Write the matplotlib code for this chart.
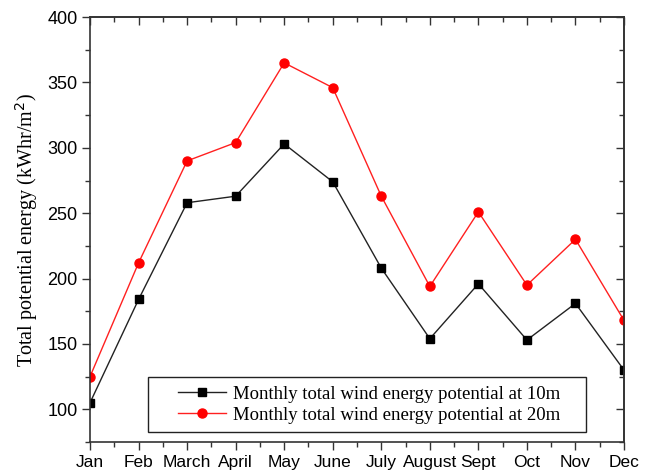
import matplotlib
matplotlib.use("Agg")
import matplotlib.pyplot as plt
from matplotlib.ticker import MultipleLocator, FixedLocator
from matplotlib.patches import Rectangle

months = ["Jan", "Feb", "March", "April", "May", "June", "July", "August", "Sept", "Oct", "Nov", "Dec"]
energy_10m = [105, 184, 258, 263, 303, 274, 208, 154, 196, 153, 181, 130]
energy_20m = [125, 212, 290, 304, 365, 346, 263, 194, 251, 195, 230, 168]

fig = plt.figure(figsize=(6.49, 4.74), dpi=100)
ax = fig.add_axes([0.1387, 0.0675, 0.8228, 0.8965])

x = list(range(len(months)))
ax.plot(x, energy_10m, color="#222222", lw=1.0, marker="s", ms=5.5,
        mfc="black", mec="black", label="Monthly total wind energy potential at 10m")
ax.plot(x, energy_20m, color="#ff2020", lw=1.0, marker="o", ms=6.5,
        mfc="#ff0000", mec="#ff0000", label="Monthly total wind energy potential at 20m")

ax.set_xlim(0, len(months) - 1)
ax.set_ylim(75, 400)
ax.set_xticks(x)
ax.set_xticklabels(months, family="Liberation Sans", fontsize=12.5)
ax.xaxis.set_minor_locator(FixedLocator([i + 0.5 for i in x[:-1]]))
ax.yaxis.set_major_locator(MultipleLocator(50))
ax.yaxis.set_minor_locator(MultipleLocator(25))
for lab in ax.get_yticklabels():
    lab.set_family("Liberation Sans")
    lab.set_fontsize(13)

ax.tick_params(axis="both", which="major", direction="out", length=6, width=1, color="#333333", pad=3)
ax.tick_params(axis="both", which="minor", direction="out", length=3.5, width=1, color="#333333")

sec_x = ax.secondary_xaxis("top")
sec_x.set_xticks(x)
sec_x.set_xticklabels([])
sec_x.xaxis.set_minor_locator(FixedLocator([i + 0.5 for i in x[:-1]]))
sec_x.tick_params(which="major", direction="in", length=6, width=1, color="#333333")
sec_x.tick_params(which="minor", direction="in", length=3.5, width=1, color="#333333")
sec_y = ax.secondary_yaxis("right")
sec_y.yaxis.set_major_locator(MultipleLocator(50))
sec_y.yaxis.set_minor_locator(MultipleLocator(25))
sec_y.set_yticklabels([])
sec_y.tick_params(which="major", direction="in", length=6, width=1, color="#333333")
sec_y.tick_params(which="minor", direction="in", length=3.5, width=1, color="#333333")
sec_x.spines["top"].set_color("#333333")
sec_y.spines["right"].set_color("#333333")
sec_x.spines["top"].set_linewidth(1.2)
sec_y.spines["right"].set_linewidth(1.2)

for sp in ax.spines.values():
    sp.set_color("#333333")
    sp.set_linewidth(1.2)

ax.set_ylabel("Total potential energy (kWhr/m$^2$)", family="Liberation Serif", fontsize=14.5)
ax.yaxis.set_label_coords(-0.094, 0.5)

leg = ax.legend(loc="center", bbox_to_anchor=(0.5225, 0.088), prop={"family": "Liberation Serif", "size": 13.5},
                frameon=False, handlelength=2.55, borderpad=0.0, labelspacing=0.2,
                handletextpad=0.35, borderaxespad=0)
box = Rectangle((0.1086, 0.0235), 0.8202, 0.1295, transform=ax.transAxes,
                facecolor="white", edgecolor="#222222", lw=1.0, zorder=4)
ax.add_patch(box)
leg.set_zorder(5)

fig.savefig("out.png", dpi=100)
